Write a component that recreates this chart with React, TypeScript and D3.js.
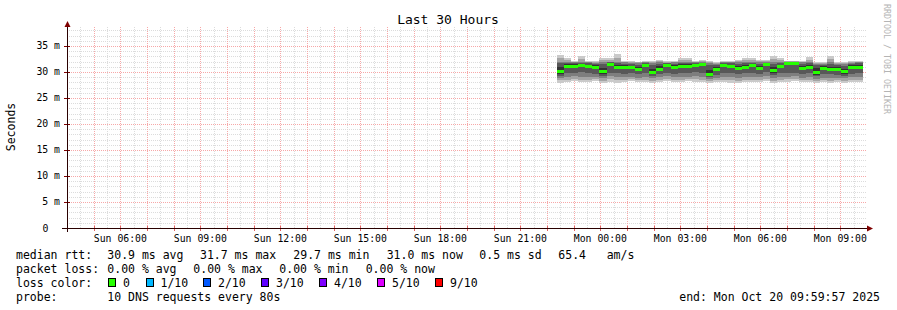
import React from "react";
import * as d3 from "d3";

const W = 897;
const H = 310;

// time window (UTC)
const T_START = Date.UTC(2025, 9, 19, 3, 59, 57);
const T_END = Date.UTC(2025, 9, 20, 9, 59, 57);
const DATA_START = Date.UTC(2025, 9, 19, 22, 22, 0);
const STEP_S = 960;
const Y_MAX = 38.46;

// median rtt per consolidated step (ms)
const median = [30.1, 31.2, 31.2, 31.4, 31.15, 30.9, 30.1, 31.5, 31.0, 31.0, 30.9, 30.6, 31.35, 30.0, 30.6, 31.35, 31.0, 31.2, 31.2, 31.4, 31.45, 29.7, 30.5, 31.35, 31.15, 30.75, 31.0, 31.35, 30.75, 31.5, 30.3, 31.1, 31.65, 31.65, 30.75, 31.0, 30.0, 30.7, 30.6, 30.6, 30.1, 31.0, 31.0];

// sorted pings (ms), p1 = fastest ... p10 = slowest
const p1 = [27.9, 28.0, 28.2, 28.0, 28.1, 28.2, 27.9, 28.1, 27.9, 28.0, 28.2, 28.0, 28.1, 27.9, 28.0, 28.2, 28.0, 28.1, 28.2, 28.1, 28.0, 27.8, 28.0, 28.0, 27.9, 27.9, 28.1, 28.0, 28.0, 28.2, 27.9, 28.0, 28.1, 28.2, 28.0, 28.0, 27.8, 28.0, 27.9, 28.0, 27.9, 28.1, 28.0];
const p2 = [28.4, 28.5, 28.6, 28.4, 28.5, 28.6, 28.3, 28.6, 28.4, 28.5, 28.6, 28.4, 28.5, 28.3, 28.5, 28.6, 28.4, 28.5, 28.6, 28.6, 28.5, 28.2, 28.4, 28.5, 28.4, 28.3, 28.5, 28.5, 28.4, 28.6, 28.3, 28.4, 28.6, 28.6, 28.4, 28.5, 28.3, 28.4, 28.3, 28.4, 28.3, 28.5, 28.5];
const p3 = [28.9, 29.0, 29.2, 29.1, 29.0, 29.1, 28.8, 29.2, 29.0, 29.0, 29.1, 28.9, 29.1, 28.8, 29.0, 29.2, 29.0, 29.1, 29.1, 29.2, 29.0, 28.6, 28.9, 29.1, 29.0, 28.9, 29.1, 29.0, 29.0, 29.2, 28.8, 29.0, 29.1, 29.2, 28.9, 29.0, 28.7, 28.9, 28.9, 28.9, 28.8, 29.0, 29.1];
const p4 = [29.3, 29.8, 29.9, 30.0, 29.8, 29.7, 29.2, 29.9, 29.8, 29.7, 29.8, 29.6, 29.9, 29.2, 29.6, 29.9, 29.7, 29.8, 29.9, 30.0, 29.9, 29.0, 29.5, 29.9, 29.8, 29.6, 29.8, 29.9, 29.7, 30.0, 29.4, 29.8, 29.9, 29.9, 29.6, 29.8, 29.2, 29.6, 29.6, 29.5, 29.3, 29.7, 29.8];
const p5 = [29.6, 30.8, 30.9, 31.1, 30.8, 30.5, 29.6, 31.2, 30.6, 30.6, 30.5, 30.2, 31.0, 29.6, 30.2, 31.0, 30.6, 30.9, 30.9, 31.1, 31.1, 29.3, 30.1, 31.0, 30.8, 30.4, 30.6, 31.0, 30.3, 31.2, 29.8, 30.8, 31.4, 31.4, 30.4, 30.6, 29.5, 30.3, 30.2, 30.2, 29.7, 30.6, 30.6];
const p6 = [30.9, 31.5, 31.5, 31.6, 31.4, 31.3, 30.8, 31.7, 31.4, 31.3, 31.2, 31.0, 31.6, 30.6, 31.1, 31.6, 31.3, 31.5, 31.5, 31.6, 31.7, 30.3, 31.0, 31.6, 31.4, 31.1, 31.4, 31.6, 31.2, 31.7, 30.9, 31.4, 31.8, 31.8, 31.1, 31.4, 30.7, 31.1, 31.0, 31.0, 30.6, 31.3, 31.4];
const p7 = [31.7, 31.8, 31.7, 31.8, 31.7, 31.6, 31.5, 31.9, 31.7, 31.6, 31.5, 31.4, 31.7, 31.4, 31.6, 31.7, 31.6, 31.8, 31.8, 31.8, 31.8, 31.3, 31.3, 31.7, 31.7, 31.5, 31.7, 31.8, 31.6, 31.8, 31.6, 31.7, 31.9, 31.9, 31.6, 31.7, 31.3, 31.4, 31.6, 31.3, 31.2, 31.6, 31.7];
const p8 = [32.0, 32.0, 31.9, 32.0, 31.9, 31.8, 31.9, 32.0, 32.0, 31.9, 31.8, 31.7, 31.9, 31.8, 31.9, 31.8, 31.9, 32.0, 32.0, 31.9, 32.0, 31.7, 31.6, 31.9, 31.9, 31.9, 32.0, 32.0, 31.9, 31.9, 32.0, 32.0, 32.0, 32.0, 31.9, 32.0, 31.6, 31.6, 32.0, 31.6, 31.6, 31.8, 31.9];
const p9 = [32.6, 32.3, 32.0, 32.5, 32.0, 32.0, 32.3, 32.4, 32.6, 32.0, 32.0, 31.9, 32.0, 32.0, 32.1, 31.9, 32.0, 32.3, 32.4, 32.0, 32.2, 31.9, 31.8, 32.0, 32.0, 32.1, 32.4, 32.3, 32.1, 32.1, 32.5, 32.3, 32.1, 32.1, 32.0, 32.4, 31.8, 31.8, 32.5, 31.8, 31.8, 32.0, 32.0];
const p10 = [33.3, 32.6, 32.2, 33.1, 32.2, 32.2, 32.7, 32.7, 33.5, 32.2, 32.2, 32.0, 32.2, 32.2, 32.3, 32.05, 32.2, 32.6, 32.7, 32.2, 32.4, 32.05, 31.9, 32.2, 32.2, 32.3, 32.7, 32.7, 32.3, 32.3, 33.1, 32.6, 32.2, 32.2, 32.2, 32.9, 31.9, 31.9, 33.1, 31.9, 31.9, 32.2, 32.2];

const yTicks = [0, 5, 10, 15, 20, 25, 30, 35];
const lossLabels = ["0", "1/10", "2/10", "3/10", "4/10", "5/10", "9/10"];
const lossColors = ["#26ff00", "#00b8ff", "#0059ff", "#5e00ff", "#7e00ff", "#dd00ff", "#ff0000"];

const medianStats = ["30.9 ms avg", "31.7 ms max", "29.7 ms min", "31.0 ms now", "0.5 ms sd", "65.4", "am/s"];
const lossStats = ["0.00 % avg", "0.00 % max", "0.00 % min", "0.00 % now"];

const FONT = "'DejaVu Sans Mono', monospace";

export default function App() {
  const X0 = 67, X1 = 867, Y0 = 228, YT = 28;
  const x = d3.scaleUtc().domain([T_START, T_END]).range([X0, X1]);
  const y = d3.scaleLinear().domain([0, Y_MAX]).range([Y0, YT]);

  const minorV = d3.utcMinute.every(30)!.range(new Date(T_START), new Date(T_END));
  const labelTicks = d3.utcHour.every(3)!.range(new Date(T_START), new Date(T_END));
  const fmt = d3.utcFormat("%a %H:%M");
  const hLines = d3.range(1, 39);

  const bandLo = [p1, p2, p3, p4, p5];
  const bandHi = [p10, p9, p8, p7, p6];
  const bandColors = ["#cacaca", "#a4a4a4", "#7e7e7e", "#585858", "#323232"];
  const segX = (i: number) => Math.round(x(new Date(DATA_START + i * STEP_S * 1000)));

  const smoke: { k: string; x: number; y: number; w: number; h: number; c: string }[] = [];
  for (let b = 0; b < 5; b++) {
    for (let i = 0; i < median.length; i++) {
      const xa = segX(i);
      const xb = segX(i + 1);
      const ya = Math.round(y(bandHi[b][i]));
      const yb = Math.round(y(bandLo[b][i]));
      smoke.push({ k: `s${b}_${i}`, x: xa, y: ya, w: xb - xa, h: Math.max(1, yb - ya), c: bandColors[b] });
    }
  }

  const medX = [16, 107.3, 200, 293.3, 386.7, 479.3, 558.3, 606.7];
  const lossX = [107.3, 193.3, 279.3, 365.7];
  const boxX = [108, 145.5, 203, 261, 319, 377, 435];

  return (
    <svg width={W} height={H} style={{ display: "block", position: "absolute", left: 0, top: 0 }} fontFamily={FONT}>
      <rect width={W} height={H} fill="#ffffff" />
      {/* grid */}
      <g shapeRendering="crispEdges">
        {hLines.map((v) => (
          <line key={"h" + v} x1={X0} x2={X1} y1={Math.round(y(v)) + 0.5} y2={Math.round(y(v)) + 0.5}
            stroke={v % 5 === 0 ? "#f7a8a8" : "#dcdcdc"} strokeDasharray="1 1" />
        ))}
        {minorV.map((t, i) => {
          const major = t.getUTCMinutes() === 0;
          const xx = Math.round(x(t)) + 0.5;
          return (
            <line key={"v" + i} x1={xx} x2={xx} y1={YT - 1} y2={Y0}
              stroke={major ? "#f7a8a8" : "#dcdcdc"} strokeDasharray="1 1" />
          );
        })}
      </g>
      {/* smoke */}
      <g shapeRendering="crispEdges">
        {smoke.map((r) => (
          <rect key={r.k} x={r.x} y={r.y} width={r.w} height={r.h} fill={r.c} />
        ))}
        {median.map((m, i) => {
          const xa = segX(i), xb = segX(i + 1);
          const ym = Math.round(y(m));
          return <rect key={"m" + i} x={xa} y={ym - 1} width={xb - xa} height={3} fill="#26ff00" />;
        })}
      </g>
      {/* axes */}
      <g shapeRendering="crispEdges">
        {yTicks.map((v) => (
          <line key={"yt" + v} x1={X0 - 3} x2={X0 + 3} y1={Math.round(y(v)) + 0.5} y2={Math.round(y(v)) + 0.5} stroke="#7f0000" />
        ))}
        {minorV.map((t, i) => {
          const major = t.getUTCMinutes() === 0;
          const xx = Math.round(x(t)) + 0.5;
          return major ? <line key={"xt" + i} x1={xx} x2={xx} y1={Y0 - 2} y2={Y0 + 3} stroke="#e06060" /> : null;
        })}
        <line x1={X0 + 0.5} x2={X0 + 0.5} y1={Y0 + 4} y2={YT - 4} stroke="#2a0000" />
        <line x1={X0 - 5} x2={X1 + 3} y1={Y0 + 0.5} y2={Y0 + 0.5} stroke="#2a0000" />
      </g>
      <path d={`M${X0 + 0.5},${YT - 7} L${X0 - 2.5},${YT - 1} L${X0 + 3.5},${YT - 1} Z`} fill="#7f0000" />
      <path d={`M${X1 + 6},${Y0 + 0.5} L${X1},${Y0 - 2.5} L${X1},${Y0 + 3.5} Z`} fill="#7f0000" />

      {/* y labels */}
      {yTicks.map((v) => (
        <text key={"yl" + v} x={v === 0 ? 48.5 : 60} y={y(v) + 3.5} fontSize={9.8} textAnchor="end" fill="#000">
          {v === 0 ? "0" : `${v} m`}
        </text>
      ))}
      {/* x labels */}
      {labelTicks.map((t, i) => (
        <text key={"xl" + i} x={x(t)} y={241.5} fontSize={9.8} textAnchor="middle" fill="#000">{fmt(t)}</text>
      ))}

      {/* title */}
      <text x={448} y={24} fontSize={13} textAnchor="middle" fill="#000">Last 30 Hours</text>
      <text transform="translate(15,127) rotate(-90)" fontSize={11.5} textAnchor="middle" fill="#000">Seconds</text>
      <text transform="translate(884,4) rotate(90)" fontSize={8.3} fill="#b4b4b4">RRDTOOL / TOBI OETIKER</text>

      {/* legend */}
      <g fontSize={11.5} fill="#000">
        <text x={16} y={258.5}>median rtt:</text>
        {medianStats.map((s, i) => <text key={"ms" + i} x={medX[i + 1]} y={258.5}>{s}</text>)}
        <text x={16} y={272.5}>packet loss:</text>
        {lossStats.map((s, i) => <text key={"ls" + i} x={lossX[i]} y={272.5}>{s}</text>)}
        <text x={16} y={286.5}>loss color:</text>
        {lossLabels.map((l, i) => (
          <g key={"lc" + i}>
            <rect x={boxX[i] + 0.5} y={278.5} width={7} height={8} fill={lossColors[i]} stroke="#000" shapeRendering="crispEdges" />
            <text x={boxX[i] + 15} y={286.5}>{l}</text>
          </g>
        ))}
        <text x={16} y={300.5}>probe:</text>
        <text x={107.3} y={300.5}>10 DNS requests every 80s</text>
        <text x={880} y={300.5} textAnchor="end">end: Mon Oct 20 09:59:57 2025</text>
      </g>
    </svg>
  );
}
